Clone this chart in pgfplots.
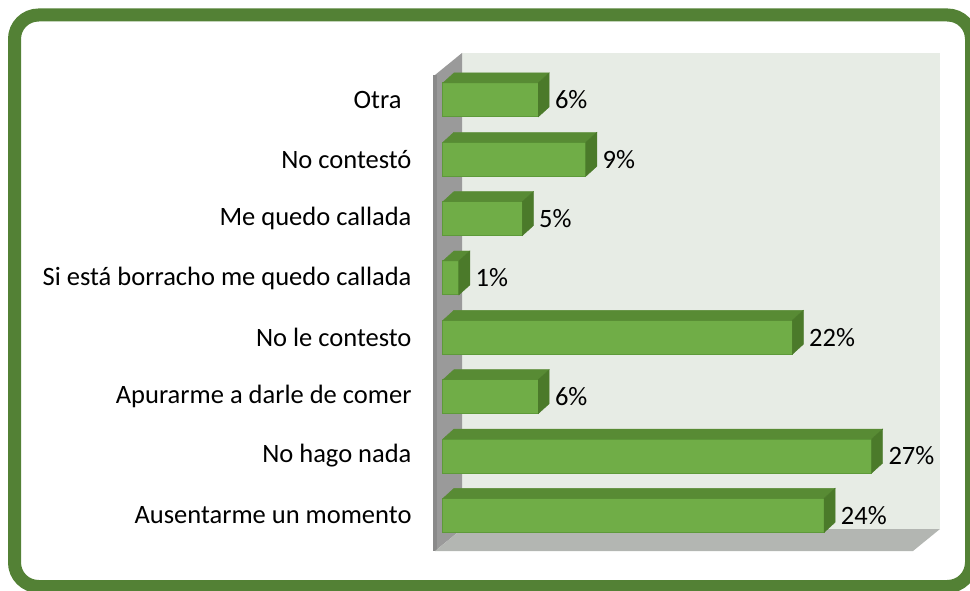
\documentclass[border=0pt]{standalone}
\usepackage{fontspec}
\setmainfont{Carlito}
\usepackage{pgfplots}
\pgfplotsset{compat=1.18}
\usepackage{pgfplotstable}

\definecolor{framegreen}{HTML}{538135}
\definecolor{barfront}{HTML}{70AD47}
\definecolor{baredge}{HTML}{5E9A3A}
\definecolor{bartop}{HTML}{588B34}
\definecolor{barside}{HTML}{4B7A2A}
\definecolor{backwall}{HTML}{E7ECE5}
\definecolor{leftwall}{HTML}{9A9A9A}
\definecolor{leftedge}{HTML}{8A8A8A}
\definecolor{floorgrey}{HTML}{B3B6B2}

% y = category index (0 = bottom), v = percent
\pgfplotstableread{
y v
0 24
1 27
2 6
3 22
4 1
5 5
6 9
7 6
}\datatable

\pgfdeclareplotmark{emptymark}{}

\begin{document}
\begin{tikzpicture}[x=1pt,y=1pt]
\useasboundingbox (0,0) rectangle (970,590);
\draw[framegreen, line width=13pt, rounded corners=24pt] (14.5,3.5) rectangle (971.5,575);

% walls of the 3d box
\fill[backwall] (462,61) rectangle (940,537);
\fill[leftwall] (435,39) -- (435,515) -- (462,537) -- (462,61) -- cycle;
\fill[leftedge] (433,39) rectangle (437,515);
\fill[floorgrey] (435,39) -- (913,39) -- (940,61) -- (462,61) -- cycle;

\begin{axis}[
  at={(435pt,39pt)}, anchor=south west,
  scale only axis,
  width=478pt, height=476pt,
  xmin=-0.5, xmax=29.6,
  ymin=-0.6, ymax=7.42,
  clip=false,
  axis lines=left,
  axis line style={draw=none,-},
  hide x axis,
  ytick={0,...,7},
  yticklabels={Ausentarme un momento, No hago nada, Apurarme a darle de comer,
    No le contesto, Si está borracho me quedo callada, Me quedo callada,
    No contestó, {Otra\hspace*{10pt}}},
  major tick length=0pt,
  yticklabel style={font=\fontsize{26.5}{30}\selectfont, xshift=-20pt},
  /pgf/number format/assume math mode=true,
]
% top and side faces of each bar
\addplot[scatter, only marks, mark=emptymark,
  visualization depends on={\thisrow{v} \as \val},
  scatter/@pre marker code/.code={
    \pgfmathsetmacro\L{\val*15.8804}
    \fill[bartop] (-\L pt,17pt) -- (-\L pt+11pt,27pt) -- (11pt,27pt) -- (0pt,17pt) -- cycle;
    \fill[barside] (0pt,-17pt) -- (0pt,17pt) -- (11pt,27pt) -- (11pt,-7pt) -- cycle;
  },
  scatter/@post marker code/.code={},
] table[x=v,y=y]{\datatable};

% front faces
\addplot[xbar, bar width=34pt, fill=barfront, draw=baredge, line width=1pt,
  nodes near coords={\pgfmathprintnumber{\pgfplotspointmeta}\%},
  nodes near coords style={anchor=west, xshift=13pt, font=\fontsize{26.5}{30}\selectfont, text=black},
] table[x=v,y=y]{\datatable};
\end{axis}
\end{tikzpicture}
\end{document}
